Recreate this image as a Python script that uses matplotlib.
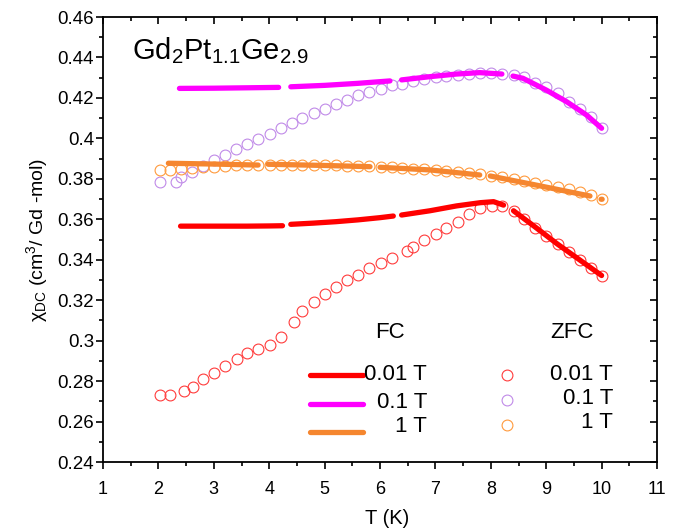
import numpy as np
import matplotlib
matplotlib.use("Agg")
import matplotlib.pyplot as plt
from matplotlib.ticker import MultipleLocator

plt.rcParams['font.family'] = ['Liberation Sans', 'DejaVu Sans']
plt.rcParams['mathtext.fontset'] = 'custom'
plt.rcParams['mathtext.rm'] = 'Liberation Sans'
plt.rcParams['mathtext.it'] = 'Liberation Sans:italic'
plt.rcParams['mathtext.default'] = 'regular'

nan = np.nan

# ---------------- ZFC data (open circles) ----------------
zfc_001_T = [2.02, 2.21, 2.47, 2.62, 2.81, 3.01, 3.21, 3.41, 3.60, 3.80, 4.01, 4.21,
             4.45, 4.60, 4.81, 5.01, 5.21, 5.41, 5.60, 5.80, 6.01, 6.21, 6.48, 6.60,
             6.80, 7.01, 7.20, 7.40, 7.61, 7.81, 8.02, 8.21, 8.41, 8.60, 8.80, 8.99,
             9.21, 9.41, 9.61, 9.81, 10.01]
zfc_001_chi = [0.2731, 0.2730, 0.2750, 0.2772, 0.2809, 0.2841, 0.2875, 0.2908, 0.2937,
               0.2957, 0.2978, 0.3016, 0.3094, 0.3147, 0.3192, 0.3231, 0.3267, 0.3300,
               0.3324, 0.3358, 0.3385, 0.3410, 0.3445, 0.3464, 0.3498, 0.3526, 0.3555,
               0.3588, 0.3626, 0.3654, 0.3666, 0.3666, 0.3641, 0.3600, 0.3558, 0.3517,
               0.3476, 0.3440, 0.3399, 0.3358, 0.3320]

zfc_01_T = [2.02, 2.32, 2.41, 2.60, 2.80, 3.01, 3.21, 3.40, 3.60, 3.80, 4.01, 4.21,
            4.41, 4.60, 4.81, 5.01, 5.21, 5.41, 5.60, 5.81, 6.01, 6.21, 6.39, 6.60,
            6.80, 7.01, 7.20, 7.40, 7.61, 7.81, 8.00, 8.21, 8.41, 8.60, 8.80, 9.00,
            9.21, 9.41, 9.61, 9.81, 10.01]
zfc_01_chi = [0.3786, 0.3786, 0.3810, 0.3835, 0.3863, 0.3893, 0.3918, 0.3946, 0.3972,
              0.3997, 0.4022, 0.4050, 0.4075, 0.4099, 0.4124, 0.4145, 0.4168, 0.4190,
              0.4213, 0.4231, 0.4246, 0.4262, 0.4269, 0.4285, 0.4293, 0.4302, 0.4310,
              0.4313, 0.4318, 0.4322, 0.4322, 0.4318, 0.4313, 0.4302, 0.4272, 0.4252,
              0.4223, 0.4181, 0.4144, 0.4107, 0.4053]

zfc_1_T = [2.02, 2.21, 2.41, 2.60, 2.81, 3.01, 3.21, 3.40, 3.60, 3.80, 4.01, 4.21,
           4.41, 4.60, 4.81, 5.01, 5.21, 5.41, 5.60, 5.81, 6.01, 6.21, 6.39, 6.60,
           6.80, 7.01, 7.20, 7.40, 7.61, 7.81, 8.00, 8.21, 8.41, 8.60, 8.80, 9.00,
           9.21, 9.41, 9.61, 9.81, 10.01]
zfc_1_chi = [0.3845, 0.3845, 0.3850, 0.3855, 0.3857, 0.3860, 0.3863, 0.3866, 0.3868,
             0.3868, 0.3868, 0.3868, 0.3868, 0.3868, 0.3868, 0.3867, 0.3866, 0.3865,
             0.3864, 0.3862, 0.3860, 0.3857, 0.3855, 0.3849, 0.3847, 0.3844, 0.3839,
             0.3835, 0.3829, 0.3822, 0.3814, 0.3807, 0.3799, 0.3791, 0.3781, 0.3769,
             0.3758, 0.3748, 0.3736, 0.3718, 0.3699]

# ---------------- FC data (thick lines, NaN = gap) ----------------
fc_001_T = [2.40, 2.80, 3.20, 3.60, 4.00, 4.24, nan,
            4.39, 4.80, 5.20, 5.60, 6.00, 6.24, nan,
            6.39, 6.90, 7.38, 7.81, 8.05, 8.23, nan,
            8.41, 8.80, 9.20, 9.60, 10.00]
fc_001_chi = [0.3566, 0.3566, 0.3566, 0.3566, 0.3567, 0.3568, nan,
              0.3575, 0.3581, 0.3588, 0.3597, 0.3608, 0.3616, nan,
              0.3621, 0.3642, 0.3666, 0.3682, 0.3687, 0.3670, nan,
              0.3642, 0.3562, 0.3478, 0.3400, 0.3322]

fc_01_T = [2.38, 3.00, 3.60, 4.17, nan,
           4.39, 5.00, 5.60, 6.18, nan,
           6.39, 6.90, 7.38, 7.80, 8.20, nan,
           8.40, 8.58, 9.00, 9.37, 9.73, 10.00]
fc_01_chi = [0.4247, 0.4248, 0.4250, 0.4252, nan,
             0.4255, 0.4262, 0.4272, 0.4284, nan,
             0.4289, 0.4305, 0.4318, 0.4325, 0.4318, nan,
             0.4308, 0.4297, 0.4239, 0.4181, 0.4115, 0.4050]

fc_1_T = [2.18, 3.00, 3.80, nan,
          3.98, 5.00, 5.82, nan,
          6.00, 6.90, 7.80, nan,
          7.99, 8.80, 9.79, nan,
          9.99, 10.01]
fc_1_chi = [0.3877, 0.3873, 0.3868, nan,
            0.3872, 0.3866, 0.3860, nan,
            0.3857, 0.3844, 0.3819, nan,
            0.3814, 0.3770, 0.3715, nan,
            0.3699, 0.3699]

field_labels = ['0.01 T', '0.1 T', '1 T']
y_tick_labels = ['0.24', '0.26', '0.28', '0.3', '0.32', '0.34', '0.36', '0.38',
                 '0.4', '0.42', '0.44', '0.46']
fc_colors = ['#ff0000', '#ff00ff', '#f5862f']
zfc_colors = ['#ff3b3b', '#c08ae8', '#ff9a3c']

fig = plt.figure(figsize=(6.83, 5.31), dpi=100)
ax = fig.add_axes([103/683, 1-462/531, 554/683, 445/531])

zfc_sets = [(zfc_001_T, zfc_001_chi), (zfc_01_T, zfc_01_chi), (zfc_1_T, zfc_1_chi)]
fc_sets = [(fc_001_T, fc_001_chi), (fc_01_T, fc_01_chi), (fc_1_T, fc_1_chi)]

for (t, c), col in zip(zfc_sets, zfc_colors):
    ax.plot(t, c, linestyle='none', marker='o', markersize=7.8, markerfacecolor='none',
            markeredgecolor=col, markeredgewidth=0.8, zorder=2)
for (t, c), col in zip(fc_sets, fc_colors):
    ax.plot(t, c, color=col, linewidth=3.8, solid_capstyle='round', zorder=3)

ax.set_xlim(1, 11)
ax.set_ylim(0.24, 0.46)
ax.xaxis.set_major_locator(MultipleLocator(1))
ax.xaxis.set_minor_locator(MultipleLocator(0.5))
ax.yaxis.set_minor_locator(MultipleLocator(0.01))
ax.set_yticks(np.linspace(0.24, 0.46, len(y_tick_labels)))
ax.set_yticklabels(y_tick_labels)

for s in ax.spines.values():
    s.set_linewidth(1.3)
ax.tick_params(which='both', direction='out', width=1.2, top=True, right=True)
ax.tick_params(which='major', length=5)
ax.tick_params(which='minor', length=3)
ax.tick_params(axis='x', labelsize=13, pad=9)
ax.tick_params(axis='y', labelsize=13.5, pad=1.5)
# top/right ticks point inward
for tk in ax.xaxis.get_major_ticks() + ax.xaxis.get_minor_ticks():
    tk.tick2line.set_marker(3)
for tk in ax.yaxis.get_major_ticks() + ax.yaxis.get_minor_ticks():
    tk.tick2line.set_marker(0)

ax.set_xlabel('T (K)', fontsize=14.5)
ax.xaxis.label.set_va('center')
ax.xaxis.set_label_coords(0.513, -(519-462)/445)
ax.set_ylabel(r'$\chi_{DC}$ (cm$^3$/ Gd -mol)', fontsize=14)
ax.yaxis.label.set_va('center')
ax.yaxis.set_label_coords(-(103-37)/554, 0.5)

ax.text(0.052, 0.925, r'Gd$_2$Pt$_{1.1}$Ge$_{2.9}$', transform=ax.transAxes,
        fontsize=21, ha='left', va='center')

# manual legend
def fy(py):
    return 1 - (py - 17) / 445

def fx(px):
    return (px - 103) / 554

tr = ax.transAxes
ax.text(fx(390), fy(333), 'FC', transform=tr, fontsize=16, ha='center', va='center')
ax.text(fx(572), fy(333), 'ZFC', transform=tr, fontsize=16, ha='center', va='center')
fc_leg_y = [375, 404, 432]
fc_lab_y = [375, 403, 427]
zfc_leg_y = [375, 400, 425]
zfc_lab_y = [375, 399, 423]
for i in range(3):
    ax.plot([fx(310), fx(363)], [fy(fc_leg_y[i])] * 2, transform=tr, color=fc_colors[i],
            linewidth=3.8, solid_capstyle='round', clip_on=False, zorder=4)
    ax.text(fx(427), fy(fc_lab_y[i]), field_labels[i], transform=tr, fontsize=16,
            ha='right', va='center', zorder=5)
    ax.plot([fx(507)], [fy(zfc_leg_y[i])], transform=tr, linestyle='none', marker='o',
            markersize=7.8, markerfacecolor='none', markeredgecolor=zfc_colors[i],
            markeredgewidth=0.8, clip_on=False)
    ax.text(fx(613), fy(zfc_lab_y[i]), field_labels[i], transform=tr, fontsize=16,
            ha='right', va='center')

fig.savefig('out.png', dpi=100)
